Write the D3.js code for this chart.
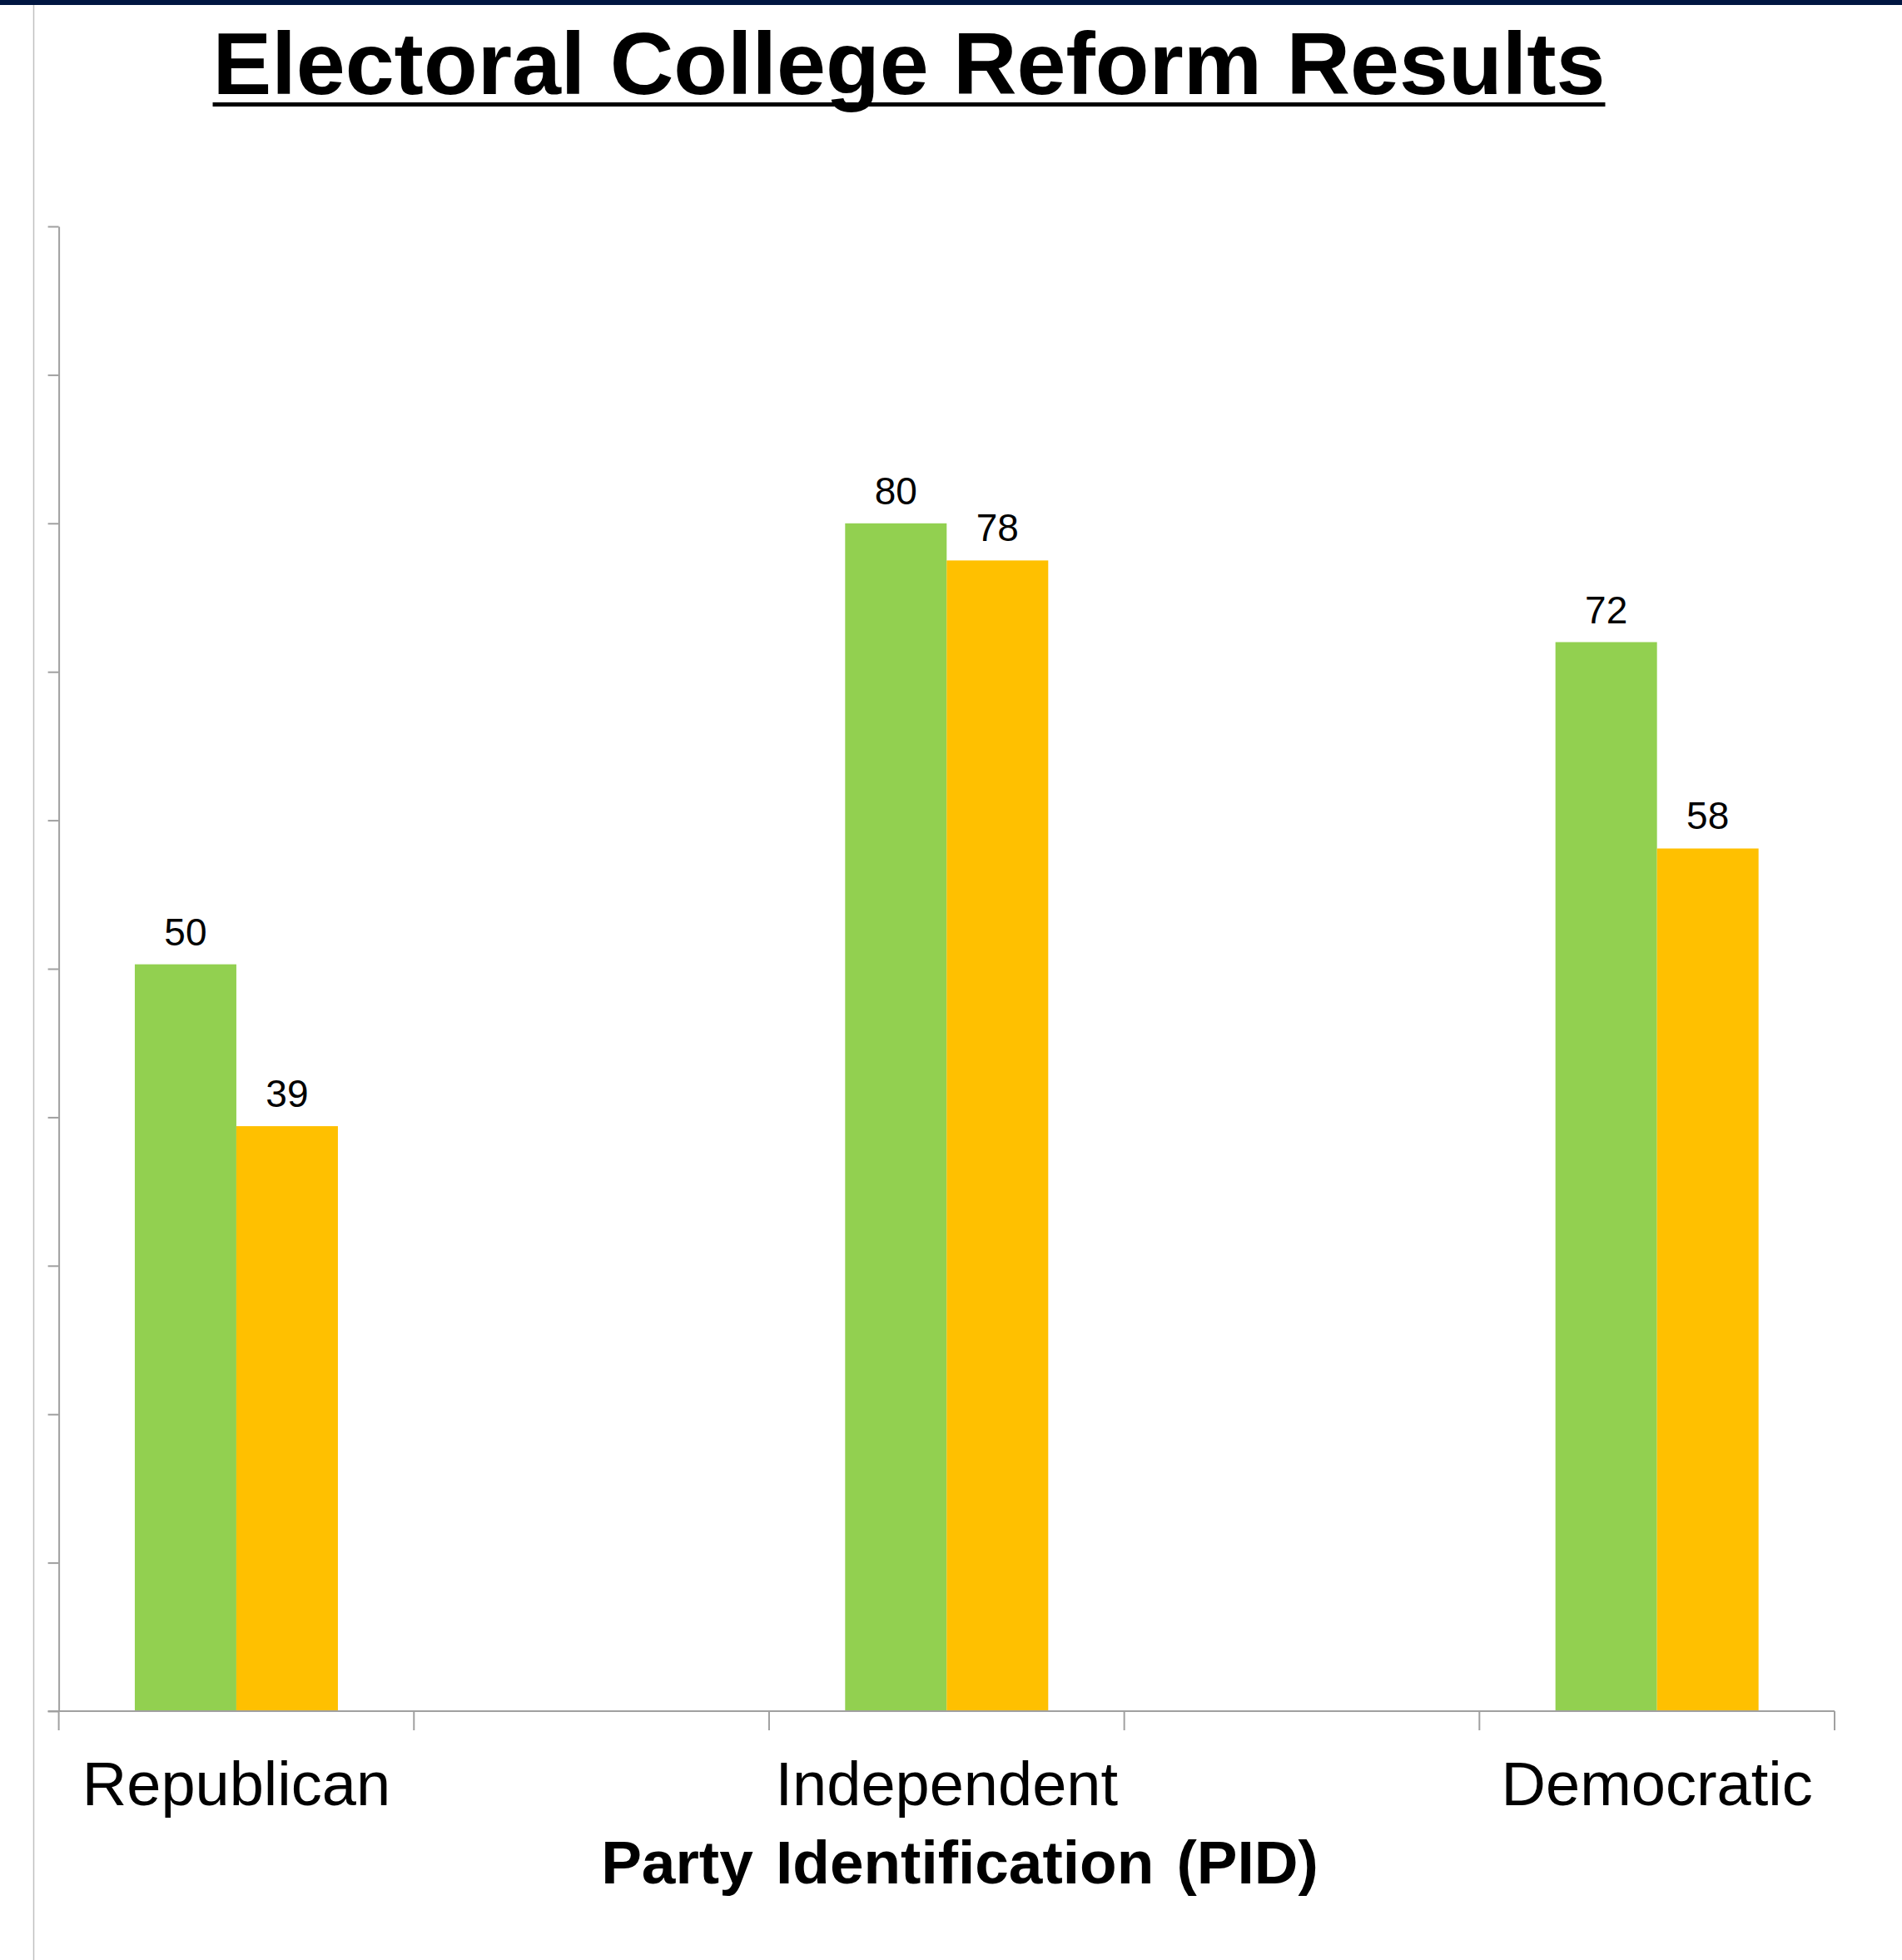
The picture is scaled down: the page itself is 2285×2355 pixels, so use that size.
<!DOCTYPE html>
<html>
<head>
<meta charset="utf-8">
<script src="https://cdn.jsdelivr.net/npm/d3@7"></script>
<style>
  html, body { margin: 0; padding: 0; background: #fff; }
  svg { display: block; }
  text { font-family: "Liberation Sans", Arial, sans-serif; }
</style>
</head>
<body>
<div id="chart"></div>
<script>
// ---- data ----
const categories = ["Republican", "gap1", "Independent", "gap2", "Democratic"];
const categoryLabels = ["Republican", "", "Independent", "", "Democratic"];
const seriesNames = ["Series A", "Series B"];
const seriesA = [50.3, null, 80, null, 72];
const seriesB = [39.4, null, 77.5, null, 58.1];
const yTicks = [0, 10, 20, 30, 40, 50, 60, 70, 80, 90, 100];
const seriesColors = ["#92D050", "#FFC000"];

const W = 2285, H = 2355;
const svg = d3.select("#chart").append("svg").attr("width", W).attr("height", H);

// top navy band and left frame line
svg.append("rect").attr("x", 0).attr("y", 0).attr("width", W).attr("height", 6).attr("fill", "#001641");
svg.append("line").attr("x1", 40.5).attr("x2", 40.5).attr("y1", 6).attr("y2", H)
  .attr("stroke", "#c0c0c0").attr("stroke-width", 1.5);

// title
const title = svg.append("text").attr("x", 1092).attr("y", 113).attr("text-anchor", "middle")
  .attr("font-size", 106).attr("font-weight", "bold").attr("fill", "#000")
  .text("Electoral College Reform Results");
const tl = title.node().getComputedTextLength();
svg.append("rect").attr("x", 1092 - tl / 2).attr("y", 123).attr("width", tl).attr("height", 5).attr("fill", "#000");

// scales
const x0 = 70.6, x1 = 2204;
const x = d3.scaleBand().domain(categories).range([x0, x1]).paddingInner(0).paddingOuter(0);
const barW = 122;
const xs = d3.scaleBand().domain(seriesNames).range([0, barW * 2]);
const y = d3.scaleLinear().domain([0, 100]).range([2056, 272]);
const fmt = d3.format(".0f");

const axisColor = "#a0a0a0";

// bars
const series = [seriesA, seriesB];
series.forEach((vals, si) => {
  const g = svg.append("g");
  categories.forEach((c, ci) => {
    const v = vals[ci];
    if (v == null) return;
    const bx = x(c) + x.bandwidth() / 2 - barW + xs(seriesNames[si]);
    g.append("rect").attr("x", bx).attr("y", y(v)).attr("width", xs.bandwidth())
      .attr("height", y(0) - y(v)).attr("fill", seriesColors[si]);
    g.append("text").attr("x", bx + xs.bandwidth() / 2).attr("y", y(v) - 23)
      .attr("text-anchor", "middle").attr("font-size", 46).attr("fill", "#000").text(fmt(v));
  });
});

// y axis
const yAxis = d3.axisLeft(y).tickValues(yTicks).tickFormat("").tickSizeInner(13).tickSizeOuter(0);
const gy = svg.append("g").attr("transform", `translate(${x0},0)`).call(yAxis);
gy.selectAll("path, line").attr("stroke", axisColor).attr("stroke-width", 2);

// x axis line and boundary ticks
svg.append("line").attr("x1", x0 - 13).attr("x2", x1).attr("y1", y(0)).attr("y2", y(0))
  .attr("stroke", axisColor).attr("stroke-width", 2);
const bounds = categories.map(c => x(c)).concat([x1]);
svg.append("g").selectAll("line").data(bounds).join("line")
  .attr("x1", d => d).attr("x2", d => d).attr("y1", y(0)).attr("y2", y(0) + 23)
  .attr("stroke", axisColor).attr("stroke-width", 2);

// category labels
svg.append("g").selectAll("text").data(categories).join("text")
  .attr("x", d => x(d) + x.bandwidth() / 2).attr("y", 2169)
  .attr("text-anchor", "middle").attr("font-size", 74).attr("fill", "#000")
  .text((d, i) => categoryLabels[i]);

// axis title
svg.append("text").attr("x", 1153).attr("y", 2263).attr("text-anchor", "middle")
  .attr("font-size", 73).attr("font-weight", "bold").attr("word-spacing", 7).attr("fill", "#000")
  .text("Party Identification (PID)");
</script>
</body>
</html>
